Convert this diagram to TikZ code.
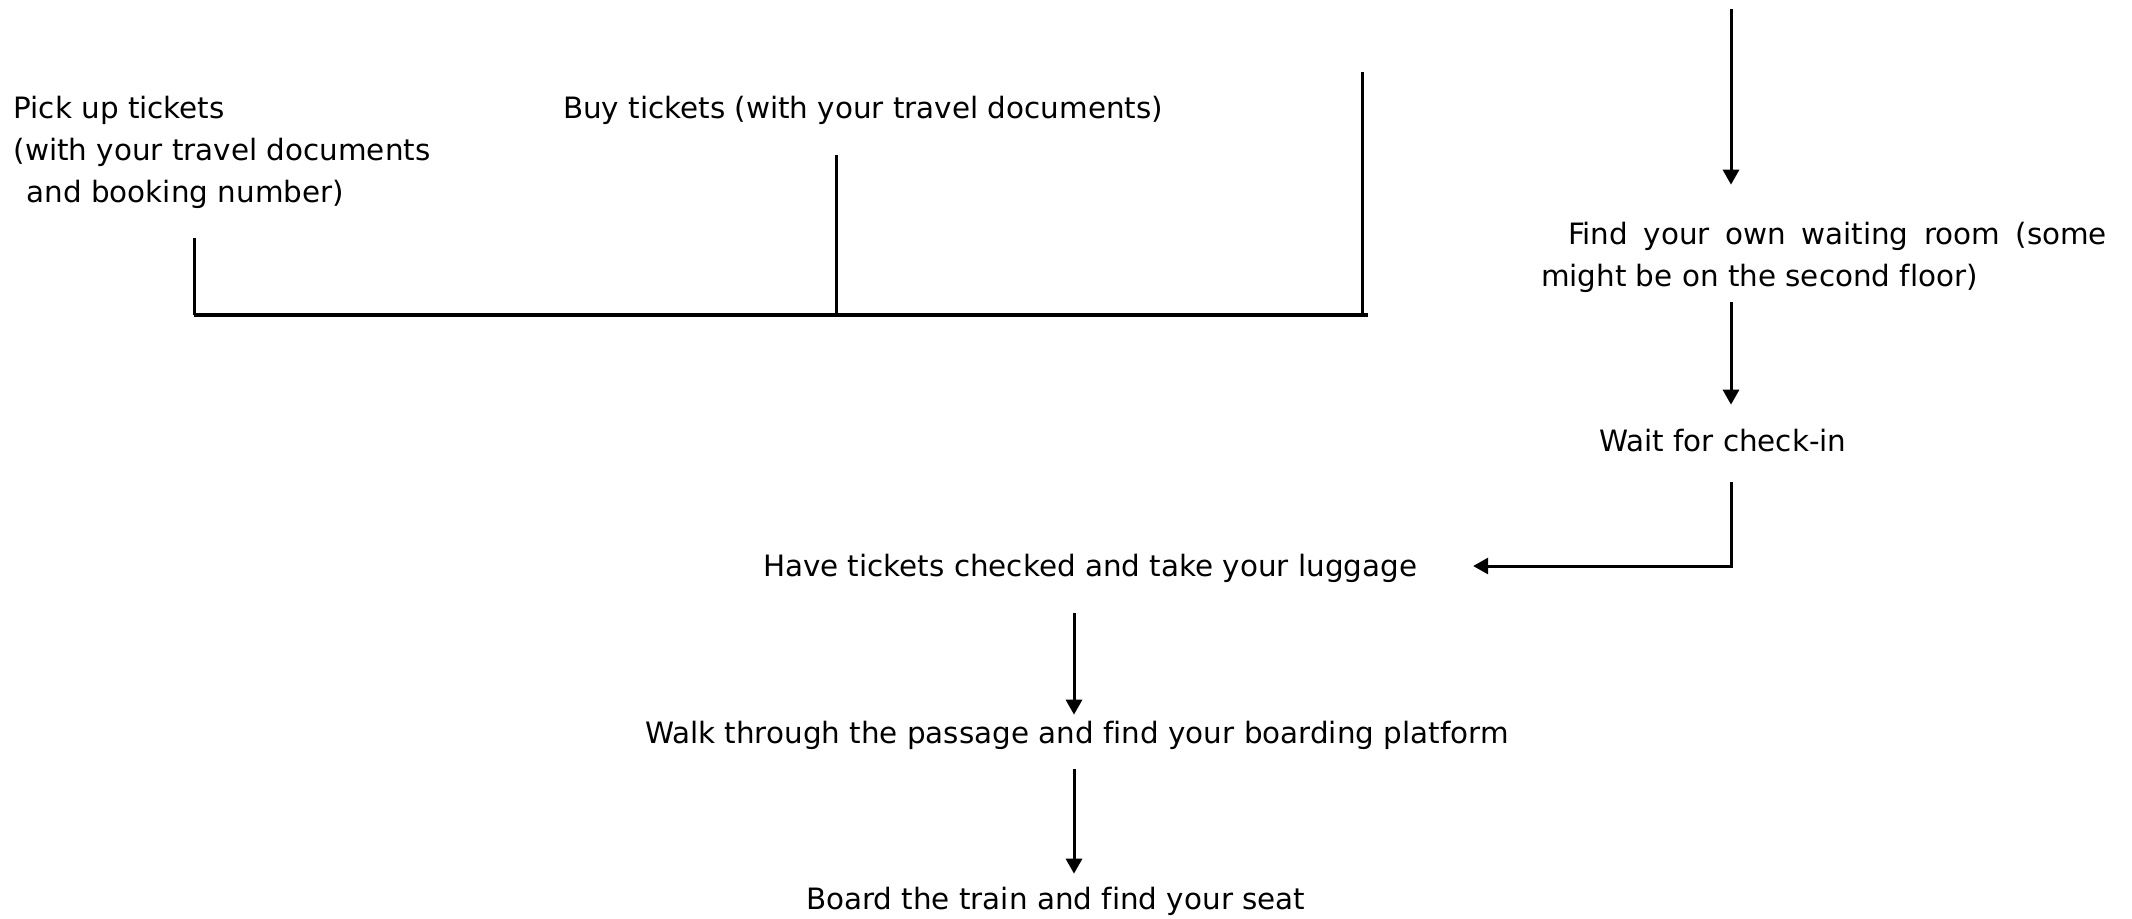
\documentclass[tikz,border=0pt]{standalone}
\usepackage{fontspec}
\setmainfont[Ligatures={NoCommon}]{DejaVu Sans}
\usetikzlibrary{arrows.meta}

\begin{document}
\begin{tikzpicture}[x=0.5pt,y=-0.5pt,
  lbl/.style={inner sep=0pt,outer sep=0pt,anchor=base west,font=\fontsize{14.7}{21}\selectfont},
  link/.style={line width=1.5pt},
  arr/.style={line width=1.5pt,-{Triangle[length=7.5pt,width=8pt]}}]
\useasboundingbox (0,0) rectangle (2132,918);
% Drawing labels
\node[lbl,align=left] (pick) at (13.6,202) {Pick up tickets\\(with your travel documents\\\hspace*{6.5pt}and booking number)};
\node[lbl] (buy) at (563,118) {Buy tickets (with your travel documents)};
\node[lbl,text width=283pt,align=justify] (find) at (1541,244) {\hspace*{13.5pt}Find your own waiting room (some\linebreak might be on the second floor)};
\node[lbl] (wait) at (1599,451) {Wait for check-in};
\node[lbl] (have) at (763,576) {Have tickets checked and take your luggage};
\node[lbl] (walk) at (645,743) {Walk through the passage and find your boarding platform};
\node[lbl] (board) at (806,909) {Board the train and find your seat};
% Done with labels; drawing the bar
\coordinate (barL) at (194,315);
\coordinate (barM) at (836,315);
\coordinate (barR) at (1362,315);
\coordinate (barEnd) at (1368,315);
\coordinate (topR) at (1362,72);
\draw[link,shorten <=15pt] (pick.south -| barL) -- (barL);
\draw[link,shorten <=15.5pt] (buy.south -| barM) -- (barM);
\draw[link] (topR) -- (barR);
\draw[line width=2pt] (barL) -- (barEnd);
% Done with the bar; drawing arrows
\coordinate (entry) at (1731,9);
\coordinate (turn) at (1731,566);
\coordinate (lcol) at (1074,0);
\draw[arr,shorten >=18.5pt] (entry) -- (find.north -| entry);
\draw[arr,shorten <=5pt,shorten >=12pt] (find.south -| entry) -- (wait.north -| entry);
\draw[arr,shorten <=15.5pt,shorten >=28pt] (wait.south -| entry) -- (turn) -- (have.east |- turn);
\draw[arr,shorten <=15.5pt,shorten >=3pt] (have.south -| lcol) -- (walk.north -| lcol);
\draw[arr,shorten <=10pt,shorten >=6.5pt] (walk.south -| lcol) -- (board.north -| lcol);
% Done with arrows
\end{tikzpicture}
\end{document}
